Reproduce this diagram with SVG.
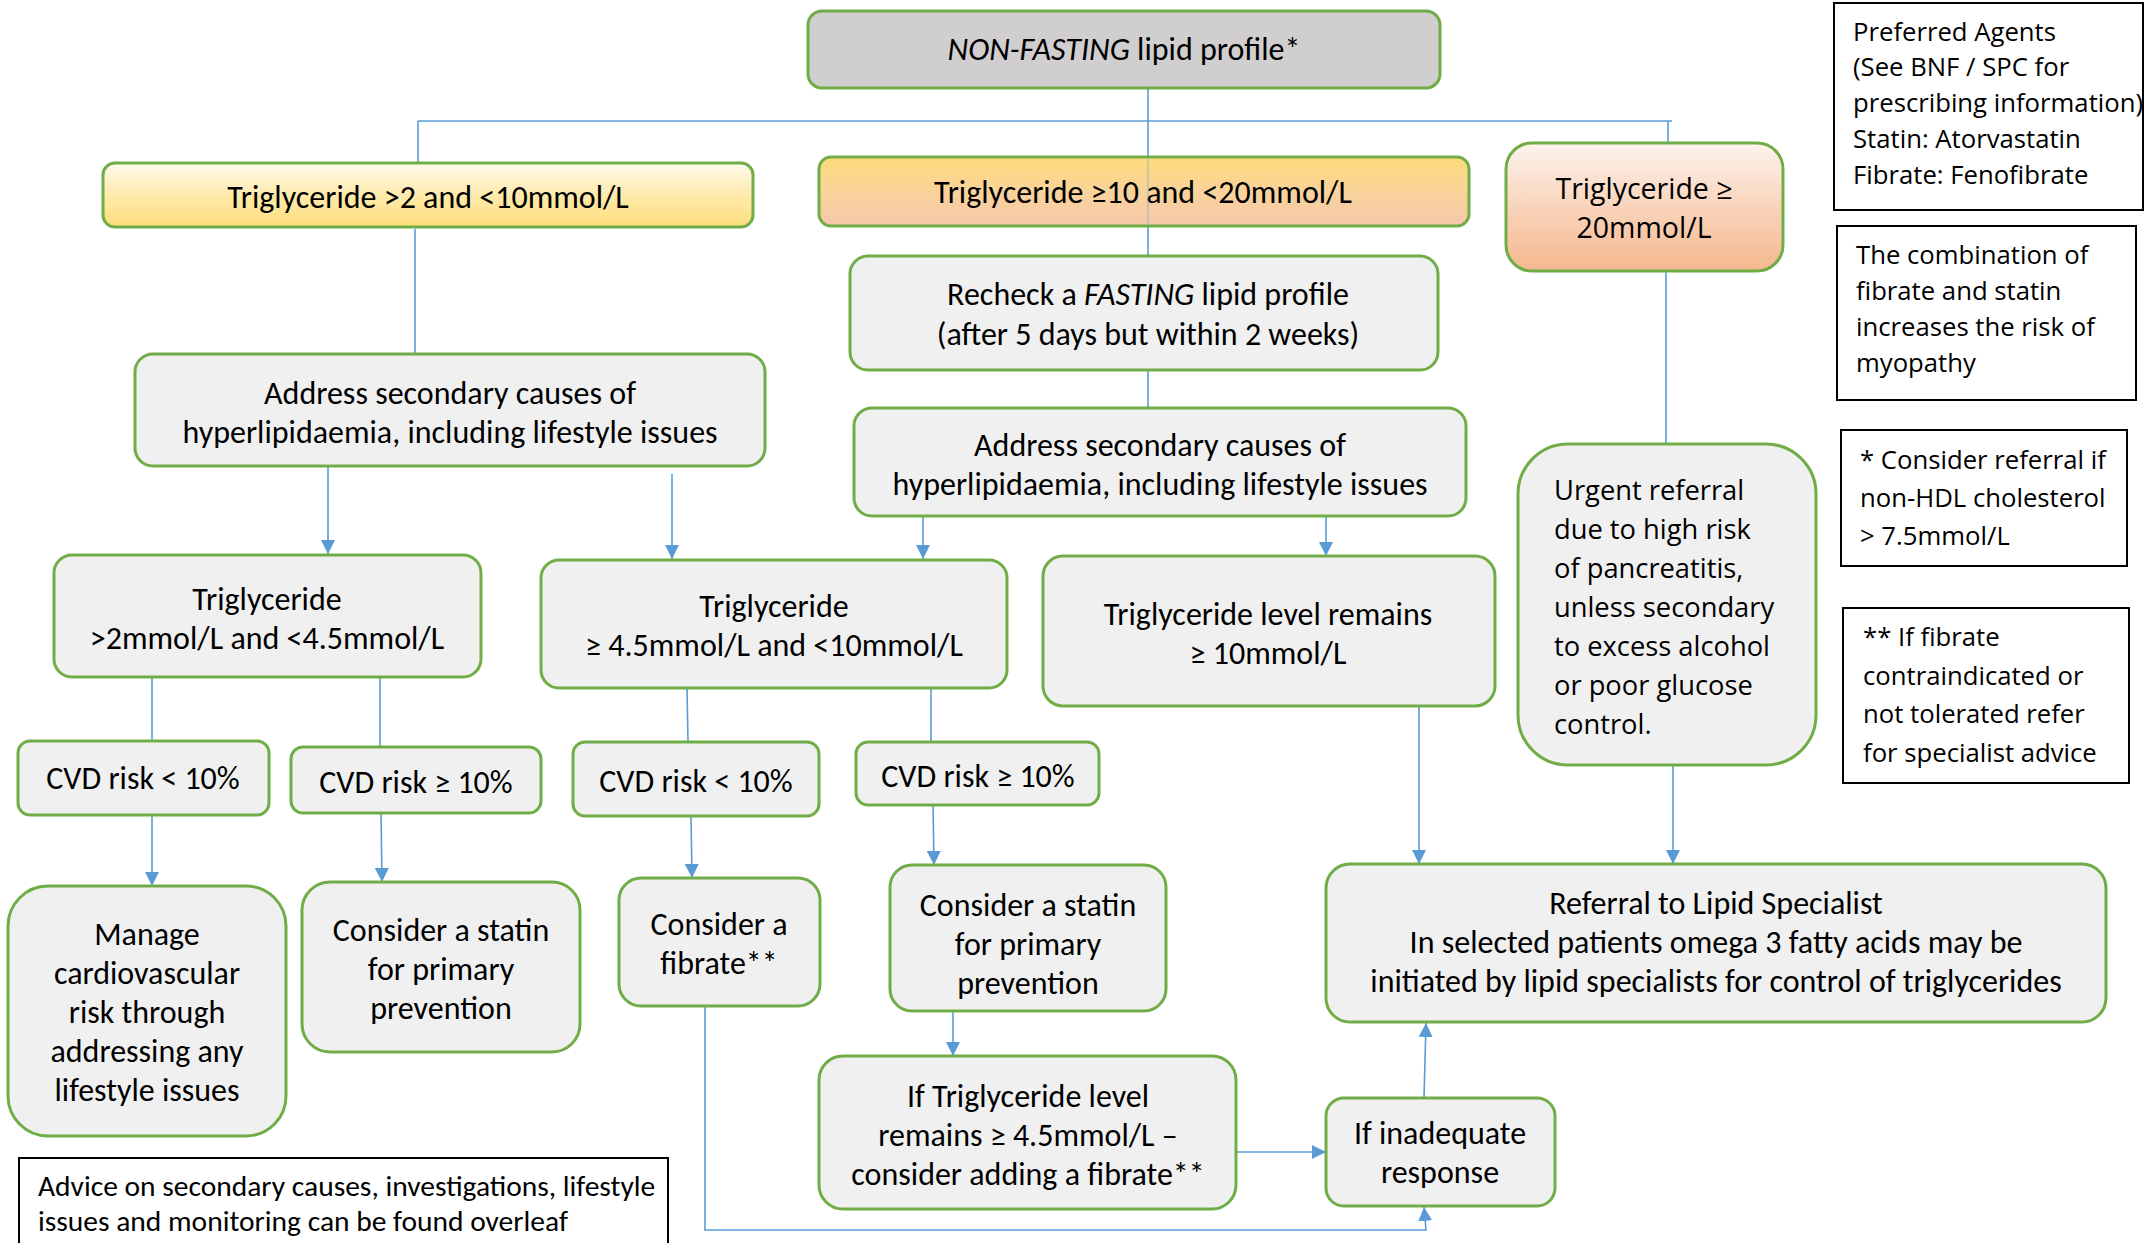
<svg xmlns="http://www.w3.org/2000/svg" width="2154" height="1243" viewBox="0 0 2154 1243">
<defs>
  <linearGradient id="gYellow" x1="0" y1="0" x2="0" y2="1">
    <stop offset="0" stop-color="#fffaee"/>
    <stop offset="0.55" stop-color="#fee9a6"/>
    <stop offset="1" stop-color="#fedd7c"/>
  </linearGradient>
  <linearGradient id="gGoldPeach" x1="0" y1="0" x2="0" y2="1">
    <stop offset="0" stop-color="#fedb7a"/>
    <stop offset="0.5" stop-color="#f9d39a"/>
    <stop offset="1" stop-color="#f6c7ab"/>
  </linearGradient>
  <linearGradient id="gPeach" x1="0" y1="0" x2="0" y2="1">
    <stop offset="0" stop-color="#fdf3ee"/>
    <stop offset="0.5" stop-color="#f9d4bb"/>
    <stop offset="1" stop-color="#f4b88e"/>
  </linearGradient>
  <marker id="arr" viewBox="0 0 10 10" refX="10" refY="5" markerWidth="14" markerHeight="14" markerUnits="userSpaceOnUse" orient="auto">
    <path d="M0,0 L10,5 L0,10 z" fill="#5b9bd5"/>
  </marker>
</defs>
<style>
  .box{fill:#f0f0f0;stroke:#70ad47;stroke-width:3}
  .note{fill:#ffffff;stroke:#000000;stroke-width:2}
  .c{fill:none;stroke:#5b9bd5;stroke-width:1.6}
  .a{fill:none;stroke:#5b9bd5;stroke-width:1.6;marker-end:url(#arr)}
  .t{font-family:Carlito,"Liberation Sans Narrow",Roboto,"Liberation Sans",sans-serif;font-size:32px;fill:#000;text-anchor:middle}
  .adv{font-size:29.5px}
  .w{font-family:"Open Sans","Noto Sans","DejaVu Sans",sans-serif;font-size:25.7px;fill:#000}
  .wu{font-size:27.3px}
  .wt{font-size:28.5px}
  .wm{text-anchor:middle}
  .l{text-anchor:start}
</style>
<rect width="2154" height="1243" fill="#ffffff"/>

<g id="connectors">
  <path class="c" d="M418,121 H1672"/>
  <path class="c" d="M418,121 V162"/>
  <path class="c" d="M1148,88 V256"/>
  <path class="c" d="M1148,370 V408"/>
  <path class="c" d="M1668,121 V143"/>
  <path class="c" d="M415,229 V354"/>
  <path class="a" d="M328,466 V554"/>
  <path class="a" d="M672,474 V559"/>
  <path class="a" d="M923,516 V559"/>
  <path class="a" d="M1326,516 V556"/>
  <path class="c" d="M1666,271 V444"/>
  <path class="c" d="M152,677 V740"/>
  <path class="c" d="M380,677 V746"/>
  <path class="c" d="M687,688 L688,742"/>
  <path class="c" d="M931,688 V742"/>
  <path class="a" d="M152,815 V886"/>
  <path class="a" d="M381,813 L382,882"/>
  <path class="a" d="M691,816 L692,878"/>
  <path class="a" d="M933,805 L934,865"/>
  <path class="a" d="M953,1011 V1056"/>
  <path class="a" d="M1236,1152 H1326"/>
  <path class="a" d="M705,1006 V1230 H1426 L1424,1207"/>
  <path class="a" d="M1424,1098 L1426,1023"/>
  <path class="a" d="M1419,706 V864"/>
  <path class="a" d="M1673,765 V864"/>
</g>

<g id="n-nonfasting">
  <rect x="808" y="11" width="632" height="77" rx="14" fill="#d0cece" stroke="#70ad47" stroke-width="3"/>
  <text class="t" x="1124" y="60"><tspan font-style="italic">NON-FASTING</tspan> lipid profile*</text>
</g>

<g id="n-tg-2-10">
  <rect x="103" y="163" width="650" height="64" rx="12" fill="url(#gYellow)" stroke="#70ad47" stroke-width="3"/>
  <text class="t" x="428" y="208">Triglyceride &gt;2 and &lt;10mmol/L</text>
</g>

<g id="n-tg-10-20">
  <rect x="819" y="157" width="650" height="69" rx="12" fill="url(#gGoldPeach)" stroke="#70ad47" stroke-width="3"/>
  <text class="t" x="1143" y="203">Triglyceride ≥10 and &lt;20mmol/L</text>
</g>
<path class="c" d="M1148,159 V225" stroke-opacity="0.35"/>

<g id="n-tg-20">
  <rect x="1506" y="143" width="277" height="128" rx="26" fill="url(#gPeach)" stroke="#70ad47" stroke-width="3"/>
  <text class="w wt wm" x="1644" y="199">Triglyceride ≥</text>
  <text class="w wt wm" x="1644" y="238">20mmol/L</text>
</g>

<g id="n-recheck">
  <rect x="850" y="256" width="588" height="114" rx="18" class="box"/>
  <text class="t" x="1148" y="305">Recheck a <tspan font-style="italic">FASTING</tspan> lipid profile</text>
  <text class="t" x="1148" y="345">(after 5 days but within 2 weeks)</text>
</g>

<g id="n-address-1">
  <rect x="135" y="354" width="630" height="112" rx="18" class="box"/>
  <text class="t" x="450" y="404">Address secondary causes of</text>
  <text class="t" x="450" y="443">hyperlipidaemia, including lifestyle issues</text>
</g>

<g id="n-address-2">
  <rect x="854" y="408" width="612" height="108" rx="18" class="box"/>
  <text class="t" x="1160" y="456">Address secondary causes of</text>
  <text class="t" x="1160" y="495">hyperlipidaemia, including lifestyle issues</text>
</g>

<g id="n-urgent">
  <rect x="1518" y="444" width="298" height="321" rx="50" class="box"/>
  <text class="w wu l" x="1554" y="500">Urgent referral</text>
  <text class="w wu l" x="1554" y="539">due to high risk</text>
  <text class="w wu l" x="1554" y="578">of pancreatitis,</text>
  <text class="w wu l" x="1554" y="617">unless secondary</text>
  <text class="w wu l" x="1554" y="656">to excess alcohol</text>
  <text class="w wu l" x="1554" y="695">or poor glucose</text>
  <text class="w wu l" x="1554" y="734">control.</text>
</g>

<g id="n-tg-2-45">
  <rect x="54" y="555" width="427" height="122" rx="18" class="box"/>
  <text class="t" x="267" y="610">Triglyceride</text>
  <text class="t" x="267" y="649">&gt;2mmol/L and &lt;4.5mmol/L</text>
</g>

<g id="n-tg-45-10">
  <rect x="541" y="560" width="466" height="128" rx="18" class="box"/>
  <text class="t" x="774" y="617">Triglyceride</text>
  <text class="t" x="774" y="656">≥ 4.5mmol/L and &lt;10mmol/L</text>
</g>

<g id="n-tg-remains-10">
  <rect x="1043" y="556" width="452" height="150" rx="20" class="box"/>
  <text class="t" x="1268" y="625">Triglyceride level remains</text>
  <text class="t" x="1268" y="664">≥ 10mmol/L</text>
</g>

<g id="n-cvd-lt-1">
  <rect x="18" y="741" width="251" height="74" rx="12" class="box"/>
  <text class="t" x="143" y="789">CVD risk &lt; 10%</text>
</g>
<g id="n-cvd-ge-1">
  <rect x="291" y="747" width="250" height="66" rx="12" class="box"/>
  <text class="t" x="416" y="793">CVD risk ≥ 10%</text>
</g>
<g id="n-cvd-lt-2">
  <rect x="573" y="742" width="246" height="74" rx="12" class="box"/>
  <text class="t" x="696" y="792">CVD risk &lt; 10%</text>
</g>
<g id="n-cvd-ge-2">
  <rect x="856" y="742" width="243" height="63" rx="12" class="box"/>
  <text class="t" x="978" y="787">CVD risk ≥ 10%</text>
</g>

<g id="n-manage">
  <rect x="8" y="886" width="278" height="250" rx="40" class="box"/>
  <text class="t" x="147" y="945">Manage</text>
  <text class="t" x="147" y="984">cardiovascular</text>
  <text class="t" x="147" y="1023">risk through</text>
  <text class="t" x="147" y="1062">addressing any</text>
  <text class="t" x="147" y="1101">lifestyle issues</text>
</g>

<g id="n-statin-1">
  <rect x="302" y="882" width="278" height="170" rx="28" class="box"/>
  <text class="t" x="441" y="941">Consider a statin</text>
  <text class="t" x="441" y="980">for primary</text>
  <text class="t" x="441" y="1019">prevention</text>
</g>

<g id="n-fibrate">
  <rect x="619" y="878" width="201" height="128" rx="22" class="box"/>
  <text class="t" x="719" y="935">Consider a</text>
  <text class="t" x="719" y="974">fibrate**</text>
</g>

<g id="n-statin-2">
  <rect x="890" y="865" width="276" height="146" rx="22" class="box"/>
  <text class="t" x="1028" y="916">Consider a statin</text>
  <text class="t" x="1028" y="955">for primary</text>
  <text class="t" x="1028" y="994">prevention</text>
</g>

<g id="n-tg-remains-45">
  <rect x="819" y="1056" width="417" height="153" rx="24" class="box"/>
  <text class="t" x="1028" y="1107">If Triglyceride level</text>
  <text class="t" x="1028" y="1146">remains ≥ 4.5mmol/L –</text>
  <text class="t" x="1028" y="1185">consider adding a fibrate**</text>
</g>

<g id="n-inadequate">
  <rect x="1326" y="1098" width="229" height="108" rx="18" class="box"/>
  <text class="t" x="1440" y="1144">If inadequate</text>
  <text class="t" x="1440" y="1183">response</text>
</g>

<g id="n-referral">
  <rect x="1326" y="864" width="780" height="158" rx="24" class="box"/>
  <text class="t" x="1716" y="914">Referral to Lipid Specialist</text>
  <text class="t" x="1716" y="953">In selected patients omega 3 fatty acids may be</text>
  <text class="t" x="1716" y="992">initiated by lipid specialists for control of triglycerides</text>
</g>

<g id="n-note-agents">
  <rect x="1834" y="3" width="309" height="207" class="note"/>
  <text class="w l" x="1853" y="41">Preferred Agents</text>
  <text class="w l" x="1853" y="76">(See BNF / SPC for</text>
  <text class="w l" x="1853" y="112">prescribing information)</text>
  <text class="w l" x="1853" y="148">Statin: Atorvastatin</text>
  <text class="w l" x="1853" y="184">Fibrate: Fenofibrate</text>
</g>

<g id="n-note-combination">
  <rect x="1837" y="226" width="299" height="174" class="note"/>
  <text class="w l" x="1856" y="264">The combination of</text>
  <text class="w l" x="1856" y="300">fibrate and statin</text>
  <text class="w l" x="1856" y="336">increases the risk of</text>
  <text class="w l" x="1856" y="372">myopathy</text>
</g>

<g id="n-note-referral">
  <rect x="1841" y="430" width="286" height="136" class="note"/>
  <text class="w l" x="1860" y="469">* Consider referral if</text>
  <text class="w l" x="1860" y="507">non-HDL cholesterol</text>
  <text class="w l" x="1860" y="545">&gt; 7.5mmol/L</text>
</g>

<g id="n-note-fibrate">
  <rect x="1843" y="608" width="286" height="175" class="note"/>
  <text class="w l" x="1863" y="646">** If fibrate</text>
  <text class="w l" x="1863" y="685">contraindicated or</text>
  <text class="w l" x="1863" y="723">not tolerated refer</text>
  <text class="w l" x="1863" y="762">for specialist advice</text>
</g>

<g id="n-note-advice">
  <rect x="19" y="1158" width="649" height="100" class="note"/>
  <text class="t adv l" x="38" y="1196">Advice on secondary causes, investigations, lifestyle</text>
  <text class="t adv l" x="38" y="1231">issues and monitoring can be found overleaf</text>
</g>
</svg>
